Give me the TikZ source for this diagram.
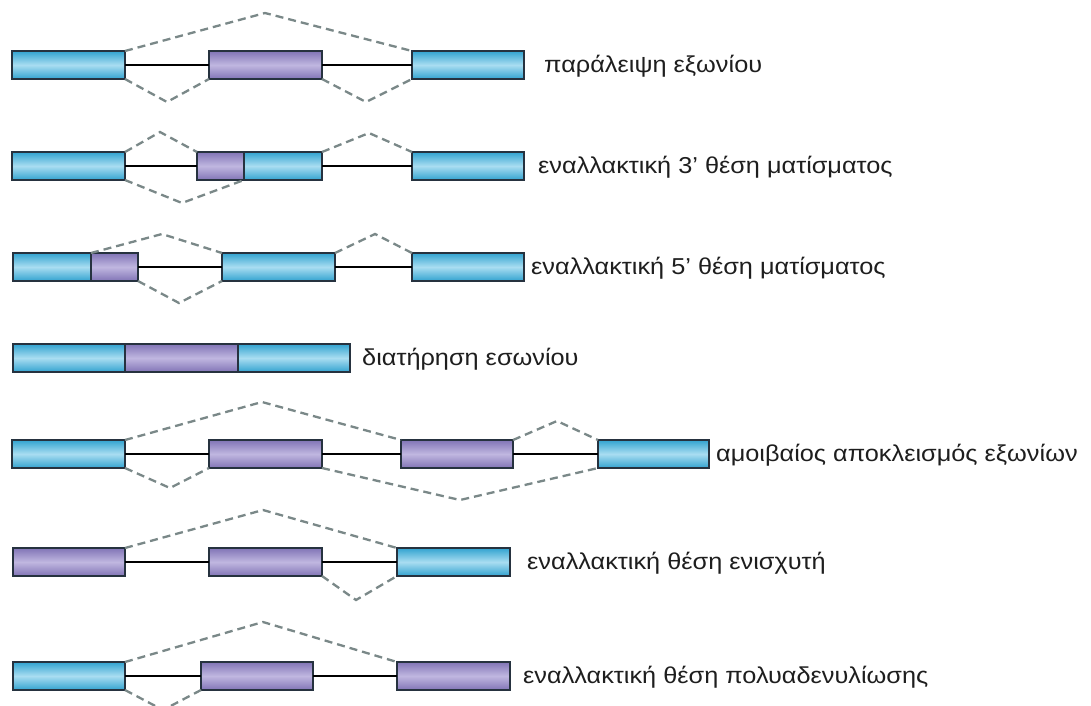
\documentclass[tikz,border=0pt]{standalone}
\usepackage{fontspec}
\usepackage{graphicx}
\setmainfont{Liberation Sans}
\definecolor{exonblue}{HTML}{32A3D0}
\definecolor{exonbluelight}{HTML}{A9DDF1}
\definecolor{exonviolet}{HTML}{8174B6}
\definecolor{exonvioletlight}{HTML}{C0B7E0}
\definecolor{exonedge}{HTML}{26323F}
\definecolor{splicegray}{HTML}{7A8888}
\definecolor{labeltext}{HTML}{1E1E1E}
\tikzset{
  exonbox/.style={draw=exonedge, line width=1.5pt, inner sep=0pt, outer sep=0pt,
    anchor=north west, minimum height=28pt},
  constit/.style={exonbox, top color=exonblue, bottom color=exonblue, middle color=exonbluelight},
  altern/.style={exonbox, top color=exonviolet, bottom color=exonviolet, middle color=exonvioletlight},
  intron/.style={line width=2.3pt, black},
  splice/.style={line width=2.3pt, splicegray, dash pattern=on 8pt off 5pt},
  rowlabel/.style={anchor=base west, inner sep=0pt, text=labeltext}
}
% exon box: style, name, left x, right x, top y
\newcommand\exon[5]{\node[#1, minimum width={(#4-#3)*1pt}] (#2) at (#3,#5) {};}
\newcommand\lbl[1]{\scalebox{1.1}[1]{\fontsize{23}{27}\selectfont #1}}
\begin{document}
\begin{tikzpicture}[x=1pt, y=-1pt]
\useasboundingbox (0,0) rectangle (1091,705);
\clip (0,0) rectangle (1091,705);
\fill[white] (0,0) rectangle (1091,705);

% exon skipping
\coordinate (a12) at (265,13);
\coordinate (a13) at (167,102);
\coordinate (a14) at (366,102);
\exon{constit}{a1}{12}{125}{51}
\exon{altern}{a2}{209}{322}{51}
\exon{constit}{a3}{412}{524}{51}
\draw[intron] (a1.east) -- (a2.west) (a2.east) -- (a3.west);
\draw[splice] (a1.north east) -- (a12) -- (a3.north west);
\draw[splice] (a1.south east) -- (a13) -- (a2.south west);
\draw[splice] (a2.south east) -- (a14) -- (a3.south west);
\node[rowlabel] (la) at (544,72) {\lbl{παράλειψη εξωνίου}};

% alternative 3' splice site
\coordinate (b12) at (160,132);
\coordinate (b34) at (369,133);
\coordinate (b13) at (182,203);
\exon{constit}{b1}{12}{125}{152}
\exon{altern}{b2}{197}{244}{152}
\exon{constit}{b3}{244}{322}{152}
\exon{constit}{b4}{412}{524}{152}
\draw[intron] (b1.east) -- (b2.west) (b3.east) -- (b4.west);
\draw[splice] (b1.north east) -- (b12) -- (b2.north west);
\draw[splice] (b3.north east) -- (b34) -- (b4.north west);
\draw[splice] (b1.south east) -- (b13) -- (b3.south west);
\node[rowlabel] (lb) at (538,173) {\lbl{εναλλακτική 3’ θέση ματίσματος}};

% alternative 5' splice site
\coordinate (c13) at (162,234);
\coordinate (c34) at (375,234);
\coordinate (c23) at (179,303);
\exon{constit}{c1}{13}{91}{253}
\exon{altern}{c2}{91}{138}{253}
\exon{constit}{c3}{222}{335}{253}
\exon{constit}{c4}{412}{524}{253}
\draw[intron] (c2.east) -- (c3.west) (c3.east) -- (c4.west);
\draw[splice] (c2.north west) -- (c13) -- (c3.north west);
\draw[splice] (c3.north east) -- (c34) -- (c4.north west);
\draw[splice] (c2.south east) -- (c23) -- (c3.south west);
\node[rowlabel] (lc) at (531,274) {\lbl{εναλλακτική 5’ θέση ματίσματος}};

% intron retention
\exon{constit}{d1}{13}{125}{344}
\exon{altern}{d2}{125}{238}{344}
\exon{constit}{d3}{238}{350}{344}
\node[rowlabel] (ld) at (362,365) {\lbl{διατήρηση εσωνίου}};

% mutually exclusive exons
\coordinate (e13) at (262,402);
\coordinate (e34) at (557,421);
\coordinate (e12) at (170,488);
\coordinate (e24) at (460,500);
\exon{constit}{e1}{12}{125}{440}
\exon{altern}{e2}{209}{322}{440}
\exon{altern}{e3}{401}{513}{440}
\exon{constit}{e4}{598}{709}{440}
\draw[intron] (e1.east) -- (e2.west) (e2.east) -- (e3.west) (e3.east) -- (e4.west);
\draw[splice] (e1.north east) -- (e13) -- (e3.north west);
\draw[splice] (e3.north east) -- (e34) -- (e4.north west);
\draw[splice] (e1.south east) -- (e12) -- (e2.south west);
\draw[splice] (e2.south east) -- (e24) -- (e4.south west);
\node[rowlabel] (le) at (716,461) {\lbl{αμοιβαίος αποκλεισμός εξωνίων}};

% alternative promoter
\coordinate (f13) at (263,510);
\coordinate (f23) at (356,600);
\exon{altern}{f1}{13}{125}{548}
\exon{altern}{f2}{209}{322}{548}
\exon{constit}{f3}{397}{510}{548}
\draw[intron] (f1.east) -- (f2.west) (f2.east) -- (f3.west);
\draw[splice] (f1.north east) -- (f13) -- (f3.north west);
\draw[splice] (f2.south east) -- (f23) -- (f3.south west);
\node[rowlabel] (lf) at (527,569) {\lbl{εναλλακτική θέση ενισχυτή}};

% alternative polyadenylation
\coordinate (g13) at (263,622);
\coordinate (g12) at (163,710);
\exon{constit}{g1}{13}{125}{662}
\exon{altern}{g2}{201}{313}{662}
\exon{altern}{g3}{397}{510}{662}
\draw[intron] (g1.east) -- (g2.west) (g2.east) -- (g3.west);
\draw[splice] (g1.north east) -- (g13) -- (g3.north west);
\draw[splice] (g1.south east) -- (g12) -- (g2.south west);
\node[rowlabel] (lg) at (523,683) {\lbl{εναλλακτική θέση πολυαδενυλίωσης}};
\end{tikzpicture}
\end{document}
